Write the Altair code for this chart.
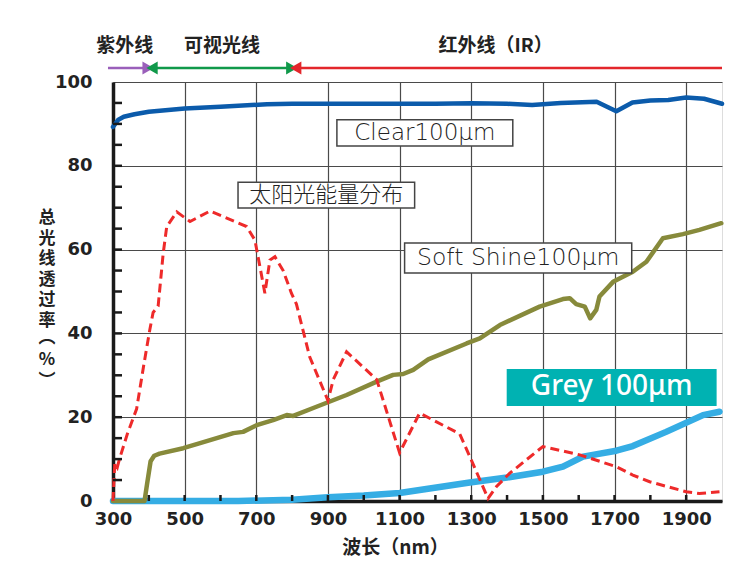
import altair as alt
import pandas as pd

# ---------------- data ----------------
clear_wl = [300, 315, 330, 360, 400, 500, 600, 730, 800, 1000, 1200, 1300, 1400, 1470, 1550, 1650, 1705, 1750, 1800, 1850, 1900, 1950, 2000]
clear_t = [89.3, 91.0, 91.7, 92.3, 92.9, 93.7, 94.1, 94.7, 94.8, 94.8, 94.8, 94.9, 94.8, 94.5, 95.0, 95.3, 93.0, 95.1, 95.6, 95.7, 96.3, 96.0, 94.8]

solar_wl = [300, 305, 312, 318, 340, 366, 385, 403, 412, 426, 440, 450, 478, 515, 571, 673, 696, 710, 724, 738, 752, 775, 798, 812, 849, 900, 915, 952, 1036, 1100, 1156, 1268, 1296, 1347, 1370, 1407, 1500, 1603, 1705, 1751, 1798, 1900, 1937, 1993]
solar_t = [0, 9, 8, 10, 16, 22, 32, 41, 45, 46.5, 59, 65.5, 69, 66.7, 69.2, 65.5, 62.3, 56, 49.6, 57.5, 58.3, 55, 49.6, 47, 34.4, 24, 29, 35.6, 29, 11.5, 21, 16, 10.6, 0.6, 3.4, 6.6, 13, 11, 8.2, 6.2, 4.6, 2.2, 1.8, 2.2]

soft_wl = [300, 388, 395, 405, 415, 430, 496, 543, 636, 663, 701, 747, 785, 803, 868, 952, 1036, 1082, 1110, 1138, 1180, 1287, 1324, 1380, 1491, 1556, 1575, 1593, 1617, 1632, 1649, 1658, 1696, 1751, 1789, 1835, 1891, 1937, 1998]
soft_t = [0, 0, 4, 9.5, 10.8, 11.3, 12.6, 13.8, 16.2, 16.5, 18.1, 19.3, 20.5, 20.3, 22.5, 25.3, 28.5, 30.1, 30.3, 31.3, 33.8, 37.6, 38.8, 42, 46.4, 48.2, 48.4, 47, 46.4, 43.6, 45.6, 48.8, 52.3, 54.7, 57.1, 62.7, 63.7, 64.7, 66.3]

grey_wl = [300, 650, 800, 900, 1000, 1100, 1184, 1296, 1400, 1500, 1556, 1612, 1705, 1751, 1844, 1947, 1993]
grey_t = [0, 0, 0.3, 0.9, 1.3, 1.9, 3.0, 4.4, 5.6, 7.0, 8.2, 10.6, 12.0, 13.1, 16.5, 20.5, 21.3]

x_ticks = [300, 500, 700, 900, 1100, 1300, 1500, 1700, 1900]
y_ticks = [0, 20, 40, 60, 80, 100]
y_minor = list(range(5, 100, 5))
x_minor = list(range(400, 2000, 100))

# labels in boxes (data units)
box_labels = ["Clear100μm", "太阳光能量分布", "Soft Shine100μm"]
box_font_sizes = [23, 22, 23.5]
box_x = [925, 649, 1114]
box_x2 = [1416, 1142, 1748]
box_y = [91.0, 76.1, 61.6]
box_y2 = [84.7, 69.9, 54.4]

grey_label = ["Grey 100μm"]
grey_box = [1399, 1985, 31.5, 22.7]

# spectrum bands above plot
band_names = ["紫外线", "可视光线", "红外线（IR）"]
band_text_x = [333, 604, 1368]
band_start = [286, 409, 810]
band_end = [398, 799, 2000]
band_colors = ["#9a5fba", "#10994a", "#e3262b"]

y_title_chars = ["总", "光", "线", "透", "过", "率"]
y_title_paren = ["︵", "%", "︶"]

# ---------------- chart ----------------
W, H = 609, 419
xs = alt.Scale(domain=[300, 2000], nice=False, zero=False)
ys = alt.Scale(domain=[0, 100], nice=False)

LABEL_FONT = "DejaVu Sans"
CJK = "Noto Sans CJK SC"

x_axis = alt.Axis(values=x_ticks, format="d", title="波长（nm）", grid=True, gridColor="#4a4a4a",
                  gridWidth=1.2, ticks=False, domain=True, domainColor="#1a1a1a",
                  domainWidth=3.5, labelFont=LABEL_FONT, labelFontSize=18,
                  labelFontWeight="bold", labelColor="#222222", labelPadding=9,
                  labelFlush=False, labelOverlap=False,
                  titleFont=CJK, titleFontSize=19, titleFontWeight="bold",
                  titleColor="#222222", titleX=282, titleY=46, titleBaseline="middle",
                  titleAnchor="middle")
y_axis = alt.Axis(values=y_ticks, title=None, grid=True, gridColor="#4a4a4a",
                  gridWidth=1.2, ticks=False, domain=True, domainColor="#1a1a1a",
                  domainWidth=3.5, labelFont=LABEL_FONT, labelFontSize=18,
                  labelFontWeight="bold", labelColor="#222222", labelPadding=21,
                  labelFlush=False, labelOverlap=False)

X = alt.X("wl:Q", scale=xs, axis=x_axis)
Y = alt.Y("t:Q", scale=ys, axis=y_axis)


def line_df(wl, t):
    return pd.DataFrame({"wl": wl, "t": t})


grey = alt.Chart(line_df(grey_wl, grey_t)).mark_line(
    color="#35ade4", strokeWidth=6.5, strokeCap="round", strokeJoin="round"
).encode(x=X, y=Y)

soft = alt.Chart(line_df(soft_wl, soft_t)).mark_line(
    color="#878a3b", strokeWidth=4.5, strokeCap="round", strokeJoin="round"
).encode(x=X, y=Y)

clear = alt.Chart(line_df(clear_wl, clear_t)).mark_line(
    color="#0b5bab", strokeWidth=4.5, strokeCap="round", strokeJoin="round"
).encode(x=X, y=Y)

solar = alt.Chart(line_df(solar_wl, solar_t)).mark_line(
    color="#ee2a2a", strokeWidth=3, strokeDash=[9, 5]
).encode(x=X, y=Y)

# inner minor ticks
ytick_rules = alt.Chart(pd.DataFrame({"t": y_minor})).mark_rule(
    color="#1a1a1a", strokeWidth=2.5
).encode(y=Y, x=alt.value(0), x2=alt.value(9))

xtick_rules = alt.Chart(pd.DataFrame({"wl": x_minor})).mark_rule(
    color="#1a1a1a", strokeWidth=2.5
).encode(x=X, y=alt.value(H), y2=alt.value(H - 6))

# label boxes
boxes_df = pd.DataFrame({"label": box_labels, "fs": box_font_sizes, "wl": box_x, "wl2": box_x2,
                         "t": box_y, "t2": box_y2})
boxes_df["cx"] = (boxes_df["wl"] + boxes_df["wl2"]) / 2
boxes_df["cy"] = (boxes_df["t"] + boxes_df["t2"]) / 2

box_rects = alt.Chart(boxes_df).mark_rect(
    fill="white", stroke="#444444", strokeWidth=1.5
).encode(x=X, x2="wl2:Q", y=Y, y2="t2:Q")

box_texts = alt.Chart(boxes_df).mark_text(
    font="DejaVu Sans, Noto Sans CJK SC", fontWeight=300, color="#222222",
    baseline="middle", align="center"
).encode(x=alt.X("cx:Q", scale=xs, axis=x_axis), y=alt.Y("cy:Q", scale=ys, axis=y_axis),
         text="label:N", size=alt.Size("fs:Q", scale=None, legend=None))

grey_df = pd.DataFrame({"label": grey_label, "wl": [grey_box[0]], "wl2": [grey_box[1]],
                        "t": [grey_box[2]], "t2": [grey_box[3]],
                        "cx": [(grey_box[0] + grey_box[1]) / 2],
                        "cy": [(grey_box[2] + grey_box[3]) / 2]})
grey_rect = alt.Chart(grey_df).mark_rect(fill="#00b2b2").encode(
    x=X, x2="wl2:Q", y=Y, y2="t2:Q")
grey_text = alt.Chart(grey_df).mark_text(
    font="Noto Sans", fontSize=28, fontWeight=500, color="white",
    baseline="middle", align="center"
).encode(x=alt.X("cx:Q", scale=xs, axis=x_axis), y=alt.Y("cy:Q", scale=ys, axis=y_axis),
         text="label:N")

# spectrum bands on top
bands_df = pd.DataFrame({"name": band_names, "tx": band_text_x, "wl": band_start,
                         "wl2": band_end, "color": band_colors})
band_lines = alt.Chart(bands_df).mark_rule(strokeWidth=2.5, clip=False).encode(
    x=X, x2="wl2:Q", y=alt.value(-14),
    color=alt.Color("color:N", scale=None))

heads_df = pd.DataFrame({
    "wl": [398, 409, 799, 810],
    "shape": ["triangle-right", "triangle-left", "triangle-right", "triangle-left"],
    "color": ["#9a5fba", "#10994a", "#10994a", "#e3262b"],
})
band_heads = alt.Chart(heads_df).mark_point(filled=True, size=170, opacity=1, clip=False).encode(
    x=X, y=alt.value(-14),
    shape=alt.Shape("shape:N", scale=None),
    color=alt.Color("color:N", scale=None))

band_texts = alt.Chart(bands_df).mark_text(
    font=CJK, fontSize=19, fontWeight="bold", color="#222222",
    baseline="middle", align="center", clip=False
).encode(x=alt.X("tx:Q", scale=xs, axis=x_axis), y=alt.value(-36), text="name:N")

# vertical y title
ytitle1 = alt.Chart(pd.DataFrame({"a": [0]})).mark_text(
    text=y_title_chars, font=CJK, fontSize=17, fontWeight="bold", color="#222222",
    lineHeight=20.6, baseline="middle", align="center", clip=False
).encode(x=alt.value(-66), y=alt.value(136))

paren_df = pd.DataFrame({"ch": y_title_paren, "py": [256, 278, 299]})
ytitle2 = alt.Chart(paren_df).mark_text(
    font=CJK, fontSize=17, fontWeight="bold", color="#222222",
    baseline="middle", align="center", clip=False
).encode(x=alt.value(-66), y=alt.Y("py:Q", scale=None), text="ch:N")

chart = alt.layer(
    grey, soft, clear, solar, ytick_rules, xtick_rules,
    box_rects, box_texts, grey_rect, grey_text,
    band_lines, band_heads, band_texts, ytitle1, ytitle2
).properties(
    width=W, height=H,
    autosize=alt.AutoSizeParams(type="none"),
    padding={"left": 105, "top": 74, "right": 20, "bottom": 60},
).configure_view(
    fill="#e2f2f1", stroke="#1a1a1a", strokeWidth=2.5
).configure(background="white")

chart.save("out.html", embed_options={"renderer": "svg", "actions": False})
